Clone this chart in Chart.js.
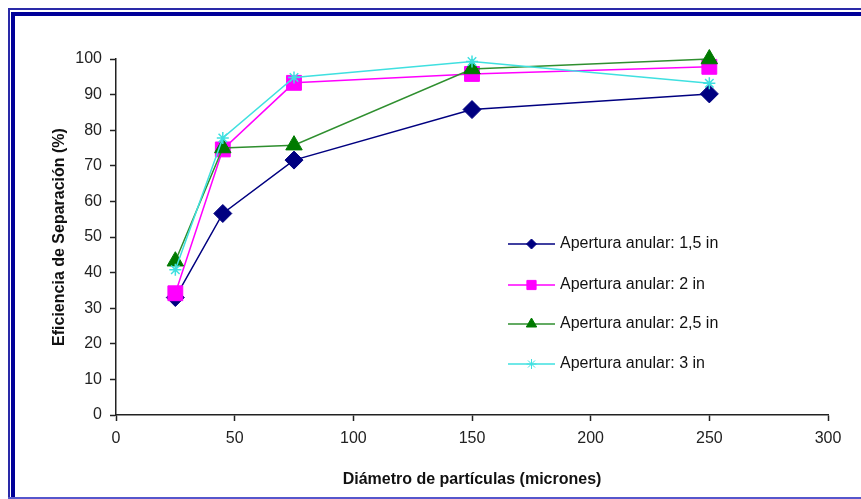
<!DOCTYPE html>
<html>
<head>
<meta charset="utf-8">
<script src="https://cdn.jsdelivr.net/npm/chart.js@4.4.1/dist/chart.umd.min.js"></script>
<style>
  html, body { margin: 0; padding: 0; background: #fff; overflow: hidden; }
  #wrap { position: relative; width: 861px; height: 499px; }
  #frameOuter { position: absolute; left: 8px; top: 8px; width: 900px; height: 600px;
    border-left: 2px solid #2a2aa8; border-top: 2px solid #2a2aa8; box-sizing: border-box; }
  #frameInner { position: absolute; left: 11px; top: 12px; width: 900px; height: 600px;
    border-left: 4px solid #000099; border-top: 4px solid #000099; box-sizing: border-box; }
  #frameBottom { position: absolute; left: 8px; top: 497px; width: 900px; height: 2px; background: #5656cc; }
  canvas { position: absolute; left: 0; top: 0; }
</style>
</head>
<body>
<div id="wrap">
  <div id="frameOuter"></div>
  <div id="frameInner"></div>
  <div id="frameBottom"></div>
  <canvas id="c" width="861" height="499"></canvas>
</div>
<script>
// Particle diameter (microns) at which separation efficiency was measured
const diametros = [25, 45, 75, 150, 250];

// Separation efficiency (%) for each annular opening
const apertura15 = [33, 56.6, 71.6, 85.8, 90.2];
const apertura2  = [34.2, 74.6, 93.3, 95.8, 97.8];
const apertura25 = [43.2, 75.0, 75.8, 97.2, 100];
const apertura3  = [40.8, 77.8, 94.8, 99.3, 93.2];

const etiquetasSeries = [
  'Apertura anular: 1,5 in',
  'Apertura anular: 2 in',
  'Apertura anular: 2,5 in',
  'Apertura anular: 3 in'
];

const ticksX = [0, 50, 100, 150, 200, 250, 300];
const ticksY = [0, 10, 20, 30, 40, 50, 60, 70, 80, 90, 100];

const FONT = "'Liberation Sans', Arial, sans-serif";

function puntos(valores) {
  return diametros.map((d, i) => ({ x: d, y: valores[i] }));
}

const estilos = [
  { line: '#000080', fill: '#000080', style: 'rectRot', r: 9, lr: 5 },
  { line: '#ff00ff', fill: '#ff00ff', style: 'rect', r: 10.5, lr: 6.5 },
  { line: '#2f8f2f', fill: '#007a00', style: 'triangle', r: 9.5, lr: 6 },
  { line: '#3fe0e0', fill: '#3fe0e0', style: 'star', r: 6, lr: 5 }
];

const series = [apertura15, apertura2, apertura25, apertura3];

// Later series are painted over earlier ones; markers may extend past the axes
const datasets = series.map((vals, i) => ({
  label: etiquetasSeries[i],
  data: puntos(vals),
  order: series.length - i,
  clip: false,
  borderColor: estilos[i].line,
  borderWidth: 1.5,
  pointStyle: estilos[i].style,
  pointRadius: estilos[i].r,
  pointHoverRadius: estilos[i].r,
  pointBackgroundColor: estilos[i].fill,
  pointBorderColor: estilos[i].fill,
  pointBorderWidth: i === 3 ? 1.5 : 1,
  showLine: true,
  tension: 0
}));

// Legend drawn inside the plot area: short line with the series marker, then the label
const leyendaInterna = {
  id: 'leyendaInterna',
  afterDraw(chart) {
    const ctx = chart.ctx;
    const x0 = 508, x1 = 555, tx = 560;
    const filas = [244, 285, 324, 364];
    ctx.save();
    chart.data.datasets.forEach((ds, i) => {
      const y = filas[i];
      const e = estilos[i];
      ctx.strokeStyle = ds.borderColor;
      ctx.lineWidth = 1.5;
      ctx.beginPath();
      ctx.moveTo(x0, y);
      ctx.lineTo(x1, y);
      ctx.stroke();
      ctx.fillStyle = e.fill;
      ctx.strokeStyle = e.fill;
      ctx.lineWidth = 1;
      Chart.helpers.drawPoint(ctx, {
        pointStyle: e.style, radius: e.lr, borderWidth: 1, rotation: 0
      }, (x0 + x1) / 2, y);
      ctx.fillStyle = '#111';
      ctx.font = '16px ' + FONT;
      ctx.textAlign = 'left';
      ctx.textBaseline = 'middle';
      ctx.fillText(ds.label, tx, y);
    });
    ctx.restore();
  }
};

new Chart(document.getElementById('c'), {
  type: 'scatter',
  data: { datasets },
  options: {
    responsive: false,
    animation: false,
    layout: { padding: { left: 46, top: 59, right: 33, bottom: 6 } },
    plugins: {
      legend: { display: false },
      tooltip: { enabled: false }
    },
    scales: {
      x: {
        type: 'linear',
        min: 0, max: 300,
        afterBuildTicks(scale) { scale.ticks = ticksX.map(v => ({ value: v })); },
        afterFit(scale) { scale.height = 78; },
        border: { display: true, color: '#222', width: 1.5 },
        grid: { drawOnChartArea: false, drawTicks: true, tickLength: 6, color: '#222', tickWidth: 1.5 },
        ticks: { color: '#222', font: { family: FONT, size: 16 }, padding: 8 },
        title: {
          display: true, text: 'Diámetro de partículas (micrones)',
          color: '#111', font: { family: FONT, size: 16, weight: 'bold' }, padding: { top: 10 }
        }
      },
      y: {
        min: 0, max: 100,
        afterBuildTicks(scale) { scale.ticks = ticksY.map(v => ({ value: v })); },
        afterFit(scale) { scale.width = 70; },
        border: { display: true, color: '#222', width: 1.5 },
        grid: { drawOnChartArea: false, drawTicks: true, tickLength: 6, color: '#222', tickWidth: 1.5 },
        ticks: { color: '#222', font: { family: FONT, size: 16 }, padding: 8 },
        title: {
          display: true, text: 'Eficiencia de Separación (%)',
          color: '#111', font: { family: FONT, size: 16, weight: 'bold' }, padding: { bottom: 4 }
        }
      }
    }
  },
  plugins: [leyendaInterna]
});
</script>
</body>
</html>
